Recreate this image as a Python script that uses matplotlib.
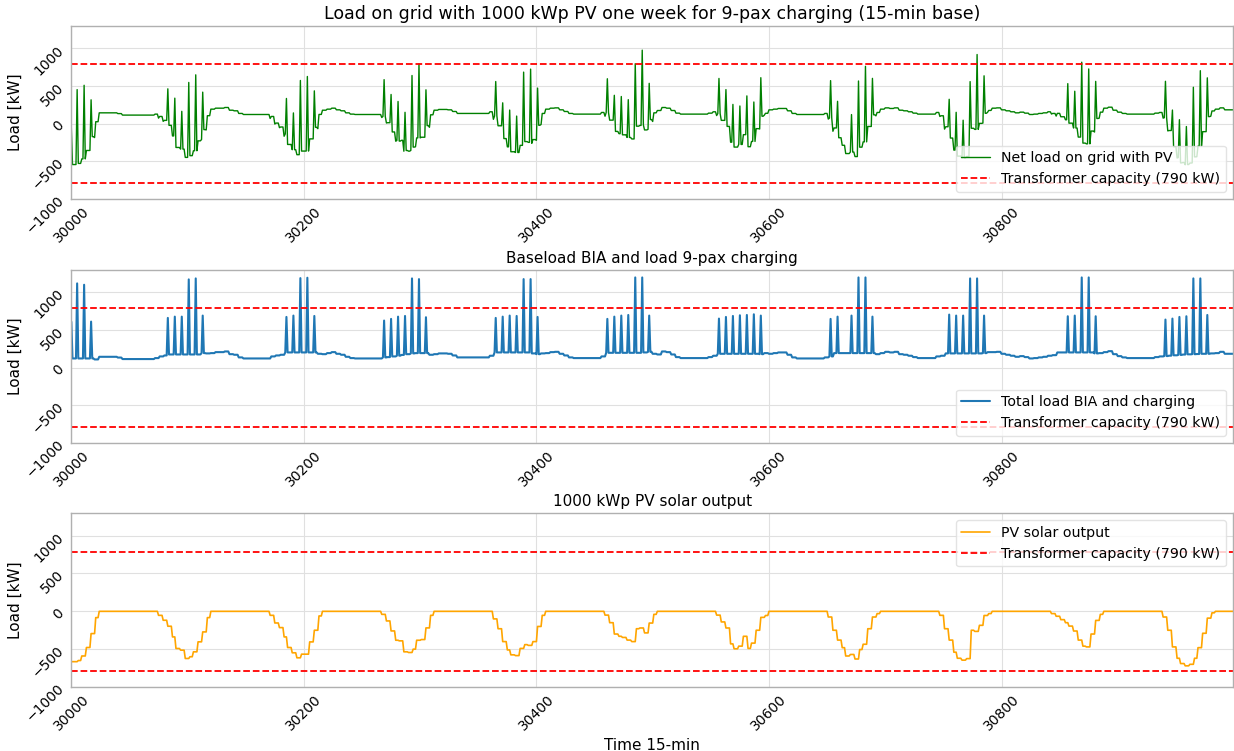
import numpy as np
import matplotlib
matplotlib.use("Agg")
import matplotlib.pyplot as plt

# ---------------- data ----------------
START = 30000
N_SAMPLES = 1000
TRANSFORMER_KW = 790

# baseload BIA, hourly values (each covers 4 x 15-min samples), starting at index 30000
base_hourly_kw = [
    123, 123, 123, 123, 123, 110, 145, 145, 145, 145, 135, 115, 115, 115, 115, 115, 115, 115, 128, 150,
    163, 176, 176, 176, 176, 176, 176, 176, 194, 190, 194, 207, 207, 216, 180, 172, 137, 123, 123, 123,
    123, 123, 123, 150, 163, 172, 203, 203, 203, 203, 203, 203, 203, 185, 180, 194, 207, 185, 172, 145,
    128, 123, 123, 123, 123, 123, 123, 137, 141, 150, 160, 170, 180, 190, 194, 194, 194, 172, 180, 190,
    190, 185, 163, 137, 137, 137, 137, 137, 137, 137, 159, 203, 203, 203, 203, 203, 203, 203, 203, 190,
    180, 190, 194, 207, 211, 185, 163, 137, 128, 128, 128, 128, 128, 128, 150, 198, 198, 198, 198, 198,
    198, 198, 198, 203, 211, 185, 176, 216, 207, 176, 141, 128, 128, 128, 128, 128, 128, 141, 159, 185,
    185, 185, 185, 185, 185, 185, 185, 185, 180, 194, 185, 194, 203, 203, 172, 137, 123, 123, 123, 123,
    123, 123, 137, 150, 194, 194, 194, 194, 194, 194, 194, 194, 194, 180, 194, 211, 203, 211, 180, 172,
    159, 141, 128, 128, 128, 128, 150, 159, 190, 190, 190, 190, 190, 190, 190, 190, 194, 207, 207, 211,
    185, 172, 159, 145, 154, 141, 123, 128, 137, 145, 159, 167, 203, 203, 203, 203, 203, 203, 203, 203,
    190, 194, 207, 220, 180, 154, 137, 128, 128, 128, 128, 128, 128, 141, 150, 155, 160, 165, 170, 175,
    178, 180, 182, 185, 185, 190, 194, 211, 185, 185,
]

# 9-pax charging peaks: sample offset from 30000 and total load at that sample [kW]
pulse_idx = [
    0, 5, 11, 17,
    83, 89, 95, 101, 107, 113,
    185, 191, 197, 203, 209,
    269, 275, 281, 287, 293, 299, 305,
    365, 371, 377, 383, 389, 395, 401,
    461, 467, 473, 479, 485, 491, 497,
    557, 563, 569, 575, 581, 587, 593,
    653, 659, 671, 677, 683, 689,
    755, 761, 767, 773, 779, 785,
    857, 863, 869, 875, 881,
    941, 947, 953, 959, 965, 971, 977,
]
pulse_kw = [
    610, 1119, 1101, 612,
    661, 678, 678, 1172, 1185, 692,
    674, 692, 1189, 1194, 687,
    626, 648, 678, 687, 1185, 1176, 670,
    661, 678, 692, 687, 1176, 1176, 674,
    648, 678, 692, 700, 1198, 1198, 692,
    652, 674, 687, 696, 700, 709, 692,
    648, 678, 692, 1198, 1198, 678,
    705, 692, 692, 1185, 1185, 692,
    683, 692, 1198, 1198, 683,
    639, 652, 674, 683, 1185, 1185, 700,
]

# PV output: sunrise sample offset per day and 12 daylight step levels [kW] (negative = generation)
pv_sunrise_idx = [-21, 75, 171, 267, 363, 459, 555, 651, 747, 843, 939]
pv_daylight_samples = 45
pv_day_steps_kw = [
    [-40, -130, -280, -430, -560, -665, -665, -650, -590, -478, -294, -83],
    [-53, -118, -197, -338, -491, -513, -623, -600, -535, -403, -272, -83],
    [-53, -154, -215, -338, -478, -548, -614, -566, -566, -404, -250, -61],
    [-40, -127, -259, -382, -390, -535, -544, -500, -382, -373, -219, -53],
    [-100, -230, -400, -510, -575, -585, -490, -440, -450, -400, -200, -53],
    [-50, -150, -300, -330, -345, -380, -400, -230, -220, -285, -155, -40],
    [-50, -140, -220, -430, -495, -460, -330, -490, -420, -250, -80, -55],
    [-75, -250, -380, -480, -590, -570, -630, -505, -435, -230, -75, -30],
    [-53, -230, -380, -540, -620, -645, -625, -250, -265, -185, -55, -30],
    [-30, -65, -110, -150, -195, -260, -380, -460, -470, -300, -120, -40],
    [-75, -250, -470, -620, -690, -720, -700, -620, -480, -290, -90, -20],
]

# ---------------- build series ----------------
t = START + np.arange(N_SAMPLES)
total = np.repeat(np.array(base_hourly_kw, dtype=float), 4)[:N_SAMPLES]
total[np.array(pulse_idx)] = pulse_kw

pv = np.zeros(N_SAMPLES)
for s0, steps in zip(pv_sunrise_idx, pv_day_steps_kw):
    n_steps = len(steps)
    for k in range(pv_daylight_samples):
        j = s0 + k
        if 0 <= j < N_SAMPLES:
            pv[j] = steps[int(k * n_steps / pv_daylight_samples)]

net = total + pv

# ---------------- plot ----------------
plt.style.use("seaborn-v0_8-whitegrid")
plt.rcParams["font.family"] = ["DejaVu Sans"]
plt.rcParams["text.color"] = "black"
plt.rcParams["axes.labelcolor"] = "black"
plt.rcParams["xtick.color"] = "black"
plt.rcParams["ytick.color"] = "black"

fig = plt.figure(figsize=(12.34, 7.51), dpi=100)
L, W = 0.0578, 0.9413
axes = [
    fig.add_axes([L, 0.735, W, 0.2305]),
    fig.add_axes([L, 0.410, W, 0.2308]),
    fig.add_axes([L, 0.0852, W, 0.2318]),
]

series = [
    (net, "green", 1.0, "Net load on grid with PV", "Load on grid with 1000 kWp PV one week for 9-pax charging (15-min base)", 12.5, "lower right"),
    (total, "#1f77b4", 1.5, "Total load BIA and charging", "Baseload BIA and load 9-pax charging", 11, "lower right"),
    (pv, "orange", 1.2, "PV solar output", "1000 kWp PV solar output", 11, "upper right"),
]

for ax, (y, c, lw, lab, title, tfs, loc) in zip(axes, series):
    ax.plot(t, y, color=c, lw=lw, label=lab)
    ax.axhline(TRANSFORMER_KW, color="red", ls="--", lw=1.3, label=f"Transformer capacity ({TRANSFORMER_KW} kW)")
    ax.axhline(-TRANSFORMER_KW, color="red", ls="--", lw=1.3)
    ax.set_xlim(t[0], t[-1])
    ax.set_ylim(-1000, 1300)
    ax.set_yticks([-1000, -500, 0, 500, 1000])
    ax.set_title(title, fontsize=tfs, pad=5)
    ax.set_ylabel("Load [kW]", fontsize=11)
    ax.yaxis.set_label_coords(-0.042, 0.5)
    ax.tick_params(axis="x", rotation=45, labelsize=10)
    ax.tick_params(axis="y", rotation=45, labelsize=10)
    ax.grid(True, color="#e0e0e0", lw=0.8)
    for sp in ax.spines.values():
        sp.set_color("#b0b0b0")
    ax.legend(loc=loc, fontsize=10.2, frameon=True, framealpha=0.8, edgecolor="#dddddd")

axes[2].set_xlabel("Time 15-min", fontsize=11)

fig.savefig("out.png", dpi=100)
